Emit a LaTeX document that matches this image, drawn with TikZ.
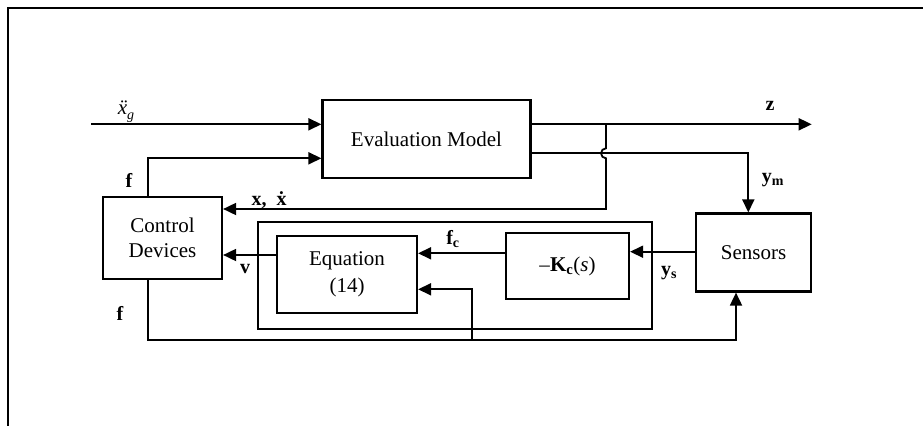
\documentclass[tikz,border=0pt]{standalone}
\usepackage{fontspec}
\setmainfont{Liberation Serif}
\usetikzlibrary{arrows.meta}
\begin{document}
\begin{tikzpicture}[x=1pt,y=-1pt,
  box/.style={draw, line width=2.2pt, rectangle, inner sep=0pt, font=\fontsize{21}{25}\selectfont, align=center},
  ln/.style={line width=1.8pt},
  arr/.style={ln, -{Triangle[length=13pt,width=12pt]}},
  lbl/.style={font=\fontsize{20}{22}\selectfont\bfseries, inner sep=0pt}]
\useasboundingbox (0,0) rectangle (923,426);
\draw[line width=1.8pt] (923,8) -- (8,8) -- (8,426);
% blocks
\node[box, minimum width=208pt, minimum height=78pt] (eval) at (426.5,139) {Evaluation Model};
\node[box, minimum width=119pt, minimum height=82pt] (ctrl) at (162.5,238) {Control\\Devices};
\node[box, minimum width=394pt, minimum height=107pt] (outer) at (455,275.5) {};
\node[box, minimum width=140pt, minimum height=77pt] (eq) at (347,274.5) {Equation\\[2pt](14)};
\node[box, minimum width=123pt, minimum height=66pt] (kc) at (567.5,266) {–\textbf{K}\textsubscript{\textbf{c}}(\textit{s})};
\node[box, minimum width=115pt, minimum height=78pt] (sens) at (753.5,252.5) {Sensors};
% coordinates
\coordinate (xg) at (91,124.3);
\coordinate (zend) at (811.7,124.3);
\coordinate (jn) at (606,124.3);
\coordinate (hop1) at (606,148.3);
\coordinate (xc) at (606,209);
\coordinate (ymc) at (748.3,153.3);
\coordinate (ftop) at (147.7,158.3);
\coordinate (fb) at (147.7,340);
\coordinate (sb) at (736,340);
\coordinate (br) at (471.7,340);
\coordinate (bru) at (471.7,289.3);
\coordinate (vy) at (0,255);
\coordinate (fcy) at (0,253.3);
\coordinate (ysy) at (0,251.7);
% connectors
\draw[arr] (xg) -- (xg -| eval.west);
\draw[arr] (ftop |- ctrl.north) -- (ftop) -- (ftop -| eval.west);
\draw[arr] (eval.east |- zend) -- (zend);
\draw[arr] (jn) -- (hop1) arc[start angle=90,end angle=270,radius=5pt] -- (xc) -- (xc -| ctrl.east);
\draw[arr] (eval.east |- ymc) -- (ymc) -- (ymc |- sens.north);
\draw[arr] (eq.west |- vy) -- (ctrl.east |- vy);
\draw[arr] (kc.west |- fcy) -- (eq.east |- fcy);
\draw[arr] (sens.west |- ysy) -- (kc.east |- ysy);
\draw[arr] (fb |- ctrl.south) -- (fb) -- (sb) -- (sb |- sens.south);
\draw[arr] (br) -- (bru) -- (bru -| eq.east);
% labels
\node[lbl, font=\fontsize{21}{22}\selectfont] (lxg) at (126,112) {\textit{\"x}\raisebox{-5pt}{\fontsize{14}{14}\selectfont\textit{g}}};
\node[lbl] (lf1) at (129,180) {f};
\node[lbl] (lx) at (269,200) {x,\ \ \.x};
\node[lbl] (lz) at (770,106) {z};
\node[lbl] (lym) at (773,180) {y\textsubscript{m}};
\node[lbl] (lfc) at (453,239) {f\textsubscript{c}};
\node[lbl] (lv) at (245,269) {v};
\node[lbl] (lys) at (669,273) {y\textsubscript{s}};
\node[lbl] (lf2) at (120,313) {f};
\end{tikzpicture}
\end{document}
